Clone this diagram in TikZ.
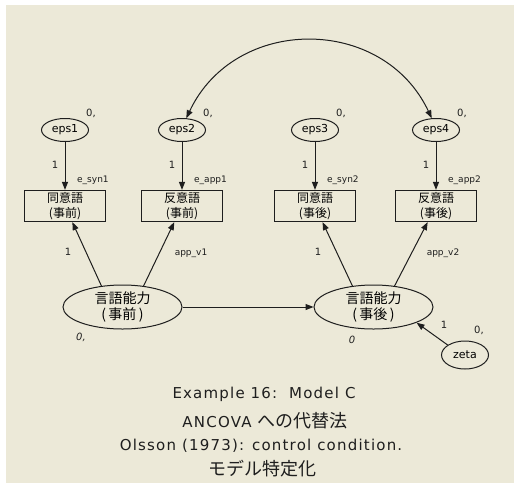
\documentclass[tikz,border=0pt]{standalone}
\usepackage{fontspec}
\setmainfont{DejaVu Sans}
\newfontfamily\jp{Noto Sans CJK JP}
\newfontfamily\capfont[LetterSpace=8]{DejaVu Sans}
\usetikzlibrary{shapes.geometric,arrows.meta}
\definecolor{amosbg}{HTML}{ECE9D8}
\definecolor{amosline}{HTML}{1E1E1E}

\tikzset{
  errnode/.style={ellipse,draw=amosline,line width=1pt,minimum width=47pt,minimum height=23pt,
    inner sep=0pt,font=\fontsize{11}{13}\selectfont},
  obsbox/.style={draw=amosline,line width=1.2pt,minimum width=81pt,minimum height=31pt,
    inner sep=0pt,align=center,font=\jp\fontsize{12}{14.5}\selectfont},
  latnode/.style={ellipse,draw=amosline,line width=1pt,minimum width=119pt,minimum height=44pt,
    inner sep=0pt,align=center,font=\jp\fontsize{14}{16}\selectfont},
  regarrow/.style={draw=amosline,line width=1pt,-{Triangle[length=8pt,width=6pt]}},
  covarrow/.style={draw=amosline,line width=1pt,{Triangle[length=8pt,width=6pt]}-{Triangle[length=8pt,width=6pt]}},
  coef/.style={inner sep=0pt,text=amosline,font=\fontsize{10}{12}\selectfont},
  parname/.style={inner sep=0pt,text=amosline,font=\fontsize{9}{11}\selectfont},
  capnode/.style={inner sep=0pt,anchor=base,text=amosline,font=\capfont\fontsize{15}{18}\selectfont},
}

\begin{document}
\begin{tikzpicture}[x=1pt,y=-1pt]
  \useasboundingbox (0,0) rectangle (514,483);
  \fill[amosbg] (6,5) rectangle (514,483);

  % error terms
  \node[errnode] (eps1) at (65,130) {eps1};
  \node[errnode] (eps2) at (182,130) {eps2};
  \node[errnode] (eps3) at (315,130) {eps3};
  \node[errnode] (eps4) at (436,130) {eps4};
  \node[coef] (m1) at (91,113) {0,};
  \node[coef] (m2) at (208,113) {0,};
  \node[coef] (m3) at (341,113) {0,};
  \node[coef] (m4) at (462,113) {0,};

  % observed variables
  \node[obsbox] (obs1) at (65,206) {同意語\\(事前)};
  \node[obsbox] (obs2) at (182,206) {反意語\\(事前)};
  \node[obsbox] (obs3) at (315,206) {同意語\\(事後)};
  \node[obsbox] (obs4) at (436,206) {反意語\\(事後)};

  % latent variables
  \node[latnode] (lat1) at (122.5,307) {言語能力\\(\,事前\,)};
  \node[latnode] (lat2) at (373.5,307) {言語能力\\(\,事後\,)};
  \node[errnode,minimum height=28pt] (zeta) at (465,355) {zeta};
  \node[coef,font=\itshape\fontsize{10}{12}\selectfont] (m5) at (81,337) {0,};
  \node[coef,font=\itshape\fontsize{10}{12}\selectfont] (m6) at (352,340) {0};
  \node[coef] (m7) at (479,330) {0,};

  % error paths
  \foreach \i/\p in {1/e\_syn1,2/e\_app1,3/e\_syn2,4/e\_app2} {
    \draw[regarrow] (eps\i) -- (obs\i);
    \node[coef] (w\i) at ([xshift=-10pt,yshift=-35pt]eps\i.center) {1};
    \node[parname,anchor=west] (p\i) at ([xshift=12pt,yshift=-50pt]eps\i.center) {\p};
  }

  % loadings
  \draw[regarrow] (lat1.135) -- (obs1);
  \draw[regarrow] (lat1.45) -- (obs2);
  \draw[regarrow] (lat2.135) -- (obs3);
  \draw[regarrow] (lat2.45) -- (obs4);
  \node[coef] (l1) at (68,252) {1};
  \node[parname] (l2) at (191,253) {app\_v1};
  \node[coef] (l3) at (318,252) {1};
  \node[parname] (l4) at (443,253) {app\_v2};

  % structural part
  \draw[regarrow] (lat1) -- (lat2);
  \draw[regarrow] (zeta.150) -- (lat2.-20);
  \node[coef] (z1) at (444,325) {1};

  % covariance
  \draw[covarrow] (eps2.70) .. controls (235,15) and (383,15) .. (eps4.110);

  % caption
  \node[capnode] (cap1) at (264,398) {Example 16:\ \ Model C};
  \node[capnode] (cap2) at (265,427) {ANCOVA {\jp\fontsize{18}{20}\selectfont への代替法}};
  \node[capnode] (cap3) at (261,450) {Olsson (1973): control condition.};
  \node[capnode] (cap4) at (262,475) {\jp\fontsize{18}{20}\selectfont モデル特定化};
\end{tikzpicture}
\end{document}
